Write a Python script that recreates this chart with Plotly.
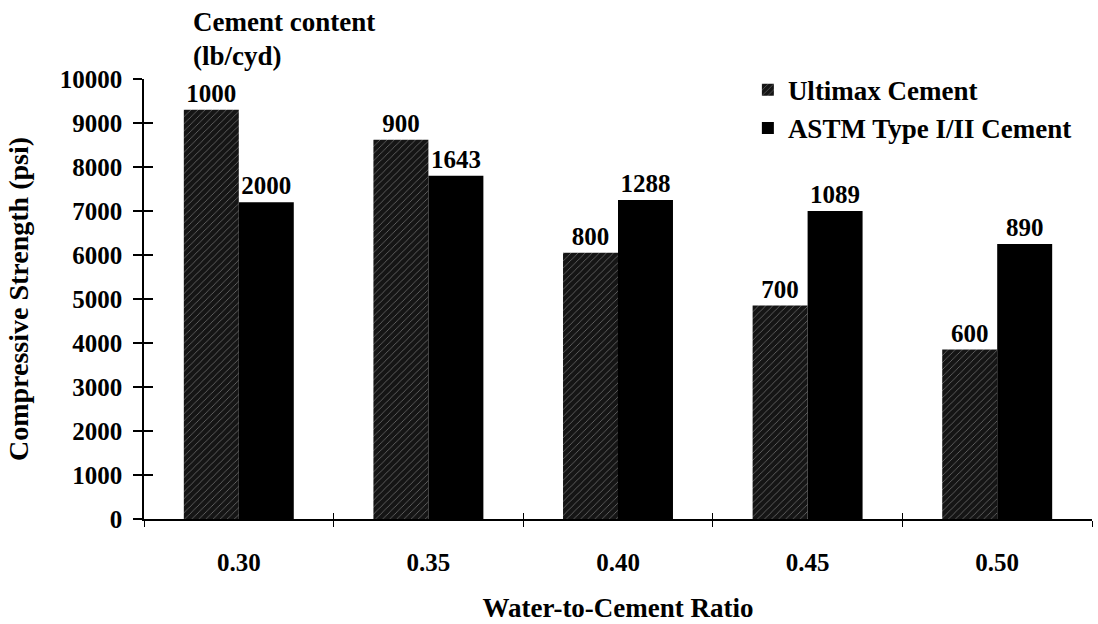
import plotly.graph_objects as go

categories = ["0.30", "0.35", "0.40", "0.45", "0.50"]
ultimax_strength = [9300, 8620, 6050, 4850, 3850]
astm_strength = [7200, 7800, 7250, 7000, 6250]
ultimax_content = ["1000", "900", "800", "700", "600"]
astm_content = ["2000", "1643", "1288", "1089", "890"]
y_ticks = list(range(0, 10001, 1000))
y_tick_labels = [str(v) for v in y_ticks]

FONT = "Liberation Serif, Times New Roman, serif"
bold = dict(family=FONT, color="black", weight="bold")

fig = go.Figure()
fig.add_trace(go.Bar(
    x=categories, y=ultimax_strength, name="Ultimax Cement",
    text=ultimax_content, textposition="outside", cliponaxis=False,
    textfont=dict(**bold, size=25),
    marker=dict(color="#151515", line=dict(width=0),
                pattern=dict(shape="/", fgcolor="#8a8a8a", bgcolor="#151515",
                             size=5, solidity=0.12, fillmode="replace")),
))
fig.add_trace(go.Bar(
    x=categories, y=astm_strength, name="ASTM Type I/II Cement",
    text=astm_content, textposition="outside", cliponaxis=False,
    textfont=dict(**bold, size=25),
    marker=dict(color="#000000", line=dict(width=0)),
))
# helper trace for the inner half of the crossing ticks
fig.add_trace(go.Scatter(x=categories, y=[None] * len(categories), xaxis="x2", yaxis="y2",
                         showlegend=False, hoverinfo="skip", mode="lines"))

fig.update_layout(
    width=1098, height=624,
    margin=dict(l=144, r=6, t=79, b=105),
    paper_bgcolor="white", plot_bgcolor="white",
    barmode="group", bargap=0.42, bargroupgap=0,
    font=dict(family=FONT, color="black"),
    showlegend=True,
    legend=dict(x=0.637, y=1.03, xanchor="left", yanchor="top",
                font=dict(**bold, size=27), bgcolor="rgba(0,0,0,0)",
                itemwidth=30, tracegroupgap=0),
    xaxis=dict(type="category", showline=True, linecolor="black", linewidth=1.5,
               ticks="outside", ticklen=6, tickcolor="black", tickwidth=1,
               tickson="boundaries", showgrid=False, zeroline=False,
               tickfont=dict(**bold, size=25), ticklabelstandoff=20,
               title=dict(text="Water-to-Cement Ratio", font=dict(**bold, size=27), standoff=23)),
    yaxis=dict(range=[0, 10000], tickvals=y_ticks, ticktext=y_tick_labels,
               showline=True, linecolor="black", linewidth=1.5,
               ticks="outside", ticklen=9, tickcolor="black", tickwidth=1.5,
               showgrid=False, zeroline=False,
               tickfont=dict(**bold, size=25), ticklabelstandoff=6,
               title=dict(text="Compressive Strength (psi)", font=dict(**bold, size=28), standoff=23)),
    xaxis2=dict(type="category", overlaying="x", matches="x", showline=False,
                ticks="inside", ticklen=6, tickcolor="black", tickwidth=1,
                tickson="boundaries", showticklabels=False, showgrid=False, zeroline=False),
    yaxis2=dict(overlaying="y", matches="y", range=[0, 10000], tickvals=y_ticks, showline=False,
                ticks="inside", ticklen=9, tickcolor="black", tickwidth=1.5,
                showticklabels=False, showgrid=False, zeroline=False),
    annotations=[
        dict(text="Cement content", xref="paper", yref="paper", x=0.05, y=1.13,
             xanchor="left", yanchor="middle", showarrow=False, font=dict(**bold, size=27)),
        dict(text="(lb/cyd)", xref="paper", yref="paper", x=0.05, y=1.052,
             xanchor="left", yanchor="middle", showarrow=False, font=dict(**bold, size=27)),
    ],
)

fig.write_html("out.html")
